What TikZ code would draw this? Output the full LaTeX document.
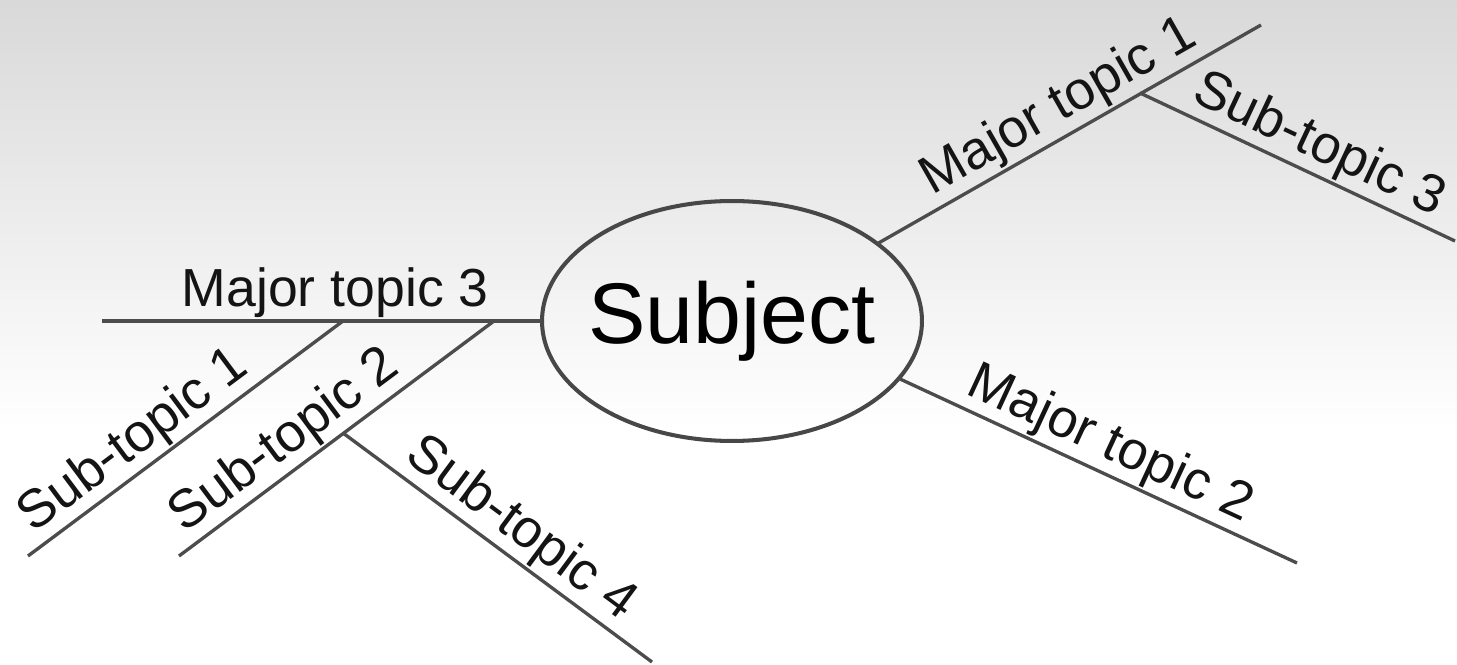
\documentclass[tikz,border=0pt]{standalone}
\usepackage{fontspec}
\setmainfont{Liberation Sans}
\usetikzlibrary{shapes.geometric}

\begin{document}
\begin{tikzpicture}[
        x=0.02cm, y=-0.02cm,
        subject/.style={ellipse, draw=black!72, line width=2.3pt, minimum width=7.6cm, minimum height=4.8cm, inner xsep=-6pt, inner ysep=0pt, outer sep=0pt, font=\fontsize{49}{58}\selectfont},
        branch/.style={draw=black!70, line width=1.9pt},
        topic/.style={font=\fontsize{30.5}{36}\selectfont, inner sep=1pt, text=black!92}
    ]
        \useasboundingbox (0,0) rectangle (1457,665);
        \shade[top color=black!15, bottom color=white] (0,0) rectangle (1457,430);

        \node[subject] (subj) at (732,321) {Subject};
        \coordinate (major1) at (1261,25);
        \coordinate (major2) at (1297,563);
        \coordinate (major3) at (102,321);
        \coordinate (fork1) at (343,321);
        \coordinate (fork2) at (494,321);
        \coordinate (fork3) at (1140,93);
        \coordinate (fork4) at (343,433);
        \coordinate (sub1) at (28,556);
        \coordinate (sub2) at (179,556);
        \coordinate (sub3) at (1455,241);
        \coordinate (sub4) at (652,662);

        \draw[branch] (subj.28) -- (major1) node[topic, pos=.51, above, sloped] (lmajor1) {Major topic 1};
        \draw[branch] (subj.-19) -- (major2) node[topic, pos=.5, above, sloped] (lmajor2) {Major topic 2};
        \draw[branch] (subj.180) -- (major3) node[topic, pos=.47, above] (lmajor3) {Major topic 3};
        \draw[branch] (fork1) -- (sub1) node[topic, pos=.61, above, sloped] (lsub1) {Sub-topic 1};
        \draw[branch] (fork2) -- (sub2) node[topic, pos=.61, above, sloped] (lsub2) {Sub-topic 2};
        \draw[branch] (fork3) -- (sub3) node[topic, pos=.53, above, sloped] (lsub3) {Sub-topic 3};
        \draw[branch] (fork4) -- (sub4) node[topic, pos=.52, above, sloped] (lsub4) {Sub-topic 4};
    \end{tikzpicture}
\end{document}
